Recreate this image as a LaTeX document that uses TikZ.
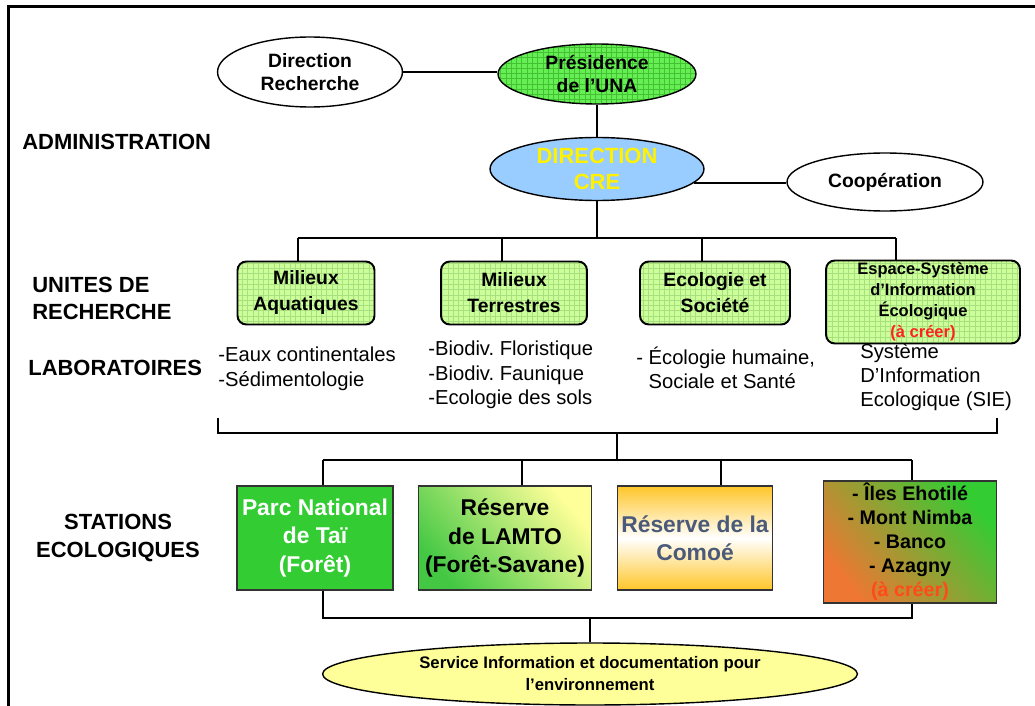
\documentclass[tikz,border=0pt]{standalone}
\usepackage{fontspec}
\setmainfont{Liberation Sans}
\usetikzlibrary{shapes.geometric, patterns}

\definecolor{presgreen}{HTML}{66EE55}
\definecolor{presgrid}{HTML}{44C033}
\definecolor{creblue}{HTML}{99CCFF}
\definecolor{unitgreen}{HTML}{CCFF99}
\definecolor{unitgrid}{HTML}{A8E080}
\definecolor{taigreen}{HTML}{33CC33}
\definecolor{lamtogreen}{HTML}{44C844}
\definecolor{lamtoyellow}{HTML}{FFFF99}
\definecolor{comoeorange}{HTML}{FFC629}
\definecolor{comoetext}{HTML}{4A5A7A}
\definecolor{isleorange}{HTML}{EE7733}
\definecolor{islegreen}{HTML}{33CC33}
\definecolor{svcyellow}{HTML}{FFFF99}
\definecolor{todored}{HTML}{FF2222}
\definecolor{todoorange}{HTML}{FF4A1A}

\tikzset{
	link/.style = {line width = 1.1pt},
	oval/.style = {ellipse, draw, line width = 0.8pt, inner sep = 0pt, align = center,
		font = \fontsize{11}{13.5}\selectfont\bfseries},
	rowlabel/.style = {inner sep = 0pt, font = \fontsize{12.5}{15.4}\selectfont\bfseries},
	unitbox/.style = {draw, rounded corners = 5pt, line width = 1.1pt, inner sep = 0pt,
		preaction = {fill = unitgreen}, pattern = grid, pattern color = unitgrid,
		align = center, minimum height = 1.26cm, font = \fontsize{11}{14.8}\selectfont\bfseries},
	labtext/.style = {anchor = north west, inner sep = 0pt, align = left,
		font = \fontsize{11.5}{13.7}\selectfont},
	station/.style = {draw = gray!40!black, line width = 0.8pt, inner sep = 0pt, align = center,
		minimum height = 2.08cm, font = \fontsize{13}{16}\selectfont\bfseries}
}

\begin{document}
\frenchspacing
\begin{tikzpicture}[x = 0.02cm, y = -0.02cm]

\useasboundingbox (0, 0) rectangle (1035, 706);

% Frame

\draw [line width = 1.7pt] (8.5, 706) -- (8.5, 6.5) -- (1035, 6.5);

% Row labels

\node [rowlabel, anchor = west] (admin) at (22, 142) {ADMINISTRATION};
\node [rowlabel, anchor = west, align = left] (unites) at (32, 298) {UNITES DE\\RECHERCHE};
\node [rowlabel, anchor = west] (labos) at (28, 368) {LABORATOIRES};
\node [rowlabel, align = center] (stations) at (118, 538) {STATIONS\\ECOLOGIQUES};

% Administration

\node [oval, minimum width = 3.7cm, minimum height = 1.4cm] (dirrech) at (310, 72) {Direction\\Recherche};
\node [oval, minimum width = 3.96cm, minimum height = 1.2cm, preaction = {fill = presgreen},
	pattern = grid, pattern color = presgrid] (presid) at (597, 74) {Présidence\\de l’UNA};
\node [oval, minimum width = 4.28cm, minimum height = 1.26cm, fill = creblue, text = yellow,
	font = \fontsize{12.5}{15}\selectfont\bfseries] (dircre) at (597, 169) {DIRECTION\\CRE};
\node [oval, minimum width = 3.92cm, minimum height = 1.16cm] (coop) at (885, 182) {Coopération};

\draw [link] (dirrech.east) -- (dirrech.east -| presid.west);
\draw [link] (presid.south) -- (dircre.north);
\draw [link] (dircre.-8) -- (dircre.-8 -| coop.west);

% Research units

\node [unitbox, minimum width = 2.74cm] (u1) at (306, 293) {Milieux\\Aquatiques};
\node [unitbox, minimum width = 2.92cm] (u2) at (514, 293) {Milieux\\Terrestres};
\node [unitbox, minimum width = 3.0cm] (u3) at (715, 293) {Ecologie et\\Société};
\node [unitbox, minimum width = 3.88cm, minimum height = 1.66cm,
	font = \fontsize{9.4}{12}\selectfont\bfseries] (u4) at (923, 302)
	{Espace-Système\\d’Information\\Écologique\\\textcolor{todored}{(à créer)}};

\coordinate (ub1) at (298, 238);
\coordinate (ub2) at (502, 238);
\coordinate (ub3) at (702, 238);
\coordinate (ub4) at (896, 238);

\draw [link] (dircre.south) -- (dircre.south |- ub1);
\draw [link] (ub1) -- (ub4);
\foreach \i in {1, ..., 4}
	\draw [link] (ub\i) -- (ub\i |- u\i.north);

% Laboratories

\node [labtext] (lab1) at (218, 347) {-Eaux continentales\\-Sédimentologie};
\node [labtext] (lab2) at (428, 341) {-Biodiv. Floristique\\-Biodiv. Faunique\\-Ecologie des sols};
\node [labtext] (lab3) at (636, 347) {- Écologie humaine,\\\hphantom{- }Sociale et Santé};
\node [labtext] (lab4) at (860, 343) {Système\\D’Information\\Ecologique (SIE)};

\coordinate (bl) at (218, 418);
\coordinate (bm) at (617, 433);
\coordinate (br) at (997, 418);

\draw [link] (bl) |- (bm) -| (br);

% Ecological stations

\node [station, minimum width = 3.12cm, fill = taigreen, text = white] (s1) at (315, 538)
	{Parc National\\de Taï\\(Forêt)};
\node [station, minimum width = 3.46cm, top color = lamtoyellow, bottom color = lamtogreen,
	shading angle = -50] (s2) at (505, 538) {Réserve\\de LAMTO\\(Forêt-Savane)};
\node [station, minimum width = 3.1cm, top color = comoeorange, bottom color = comoeorange,
	middle color = white, text = comoetext] (s3) at (695, 538) {Réserve de la\\Comoé};
\node [station, minimum width = 3.46cm, minimum height = 2.44cm, top color = islegreen,
	bottom color = isleorange, shading angle = -50, font = \fontsize{11.2}{13.7}\selectfont\bfseries]
	(s4) at (910, 542)
	{- Îles Ehotilé\\- Mont Nimba\\- Banco\\- Azagny\\\textcolor{todoorange}{(à créer)}};

\coordinate (sb1) at (323, 460);
\coordinate (sb2) at (522, 460);
\coordinate (sb3) at (721, 460);
\coordinate (sb4) at (912, 460);

\draw [link] (bm) -- (bm |- sb1);
\draw [link] (sb1) -- (sb4);
\foreach \i in {1, ..., 4}
	\draw [link] (sb\i) -- (sb\i |- s\i.north);

% Documentation service

\node [oval, minimum width = 10.7cm, minimum height = 1.24cm, fill = svcyellow,
	font = \fontsize{9.5}{12.5}\selectfont\bfseries] (svc) at (590, 674)
	{Service Information et documentation pour\\l’environnement};

\coordinate (bb1) at (323, 618);
\coordinate (bb4) at (912, 618);

\draw [link] (bb1 |- s1.south) -- (bb1) -- (bb4) -- (bb4 |- s4.south);
\draw [link] (svc.north) -- (svc.north |- bb1);

\end{tikzpicture}
\end{document}
